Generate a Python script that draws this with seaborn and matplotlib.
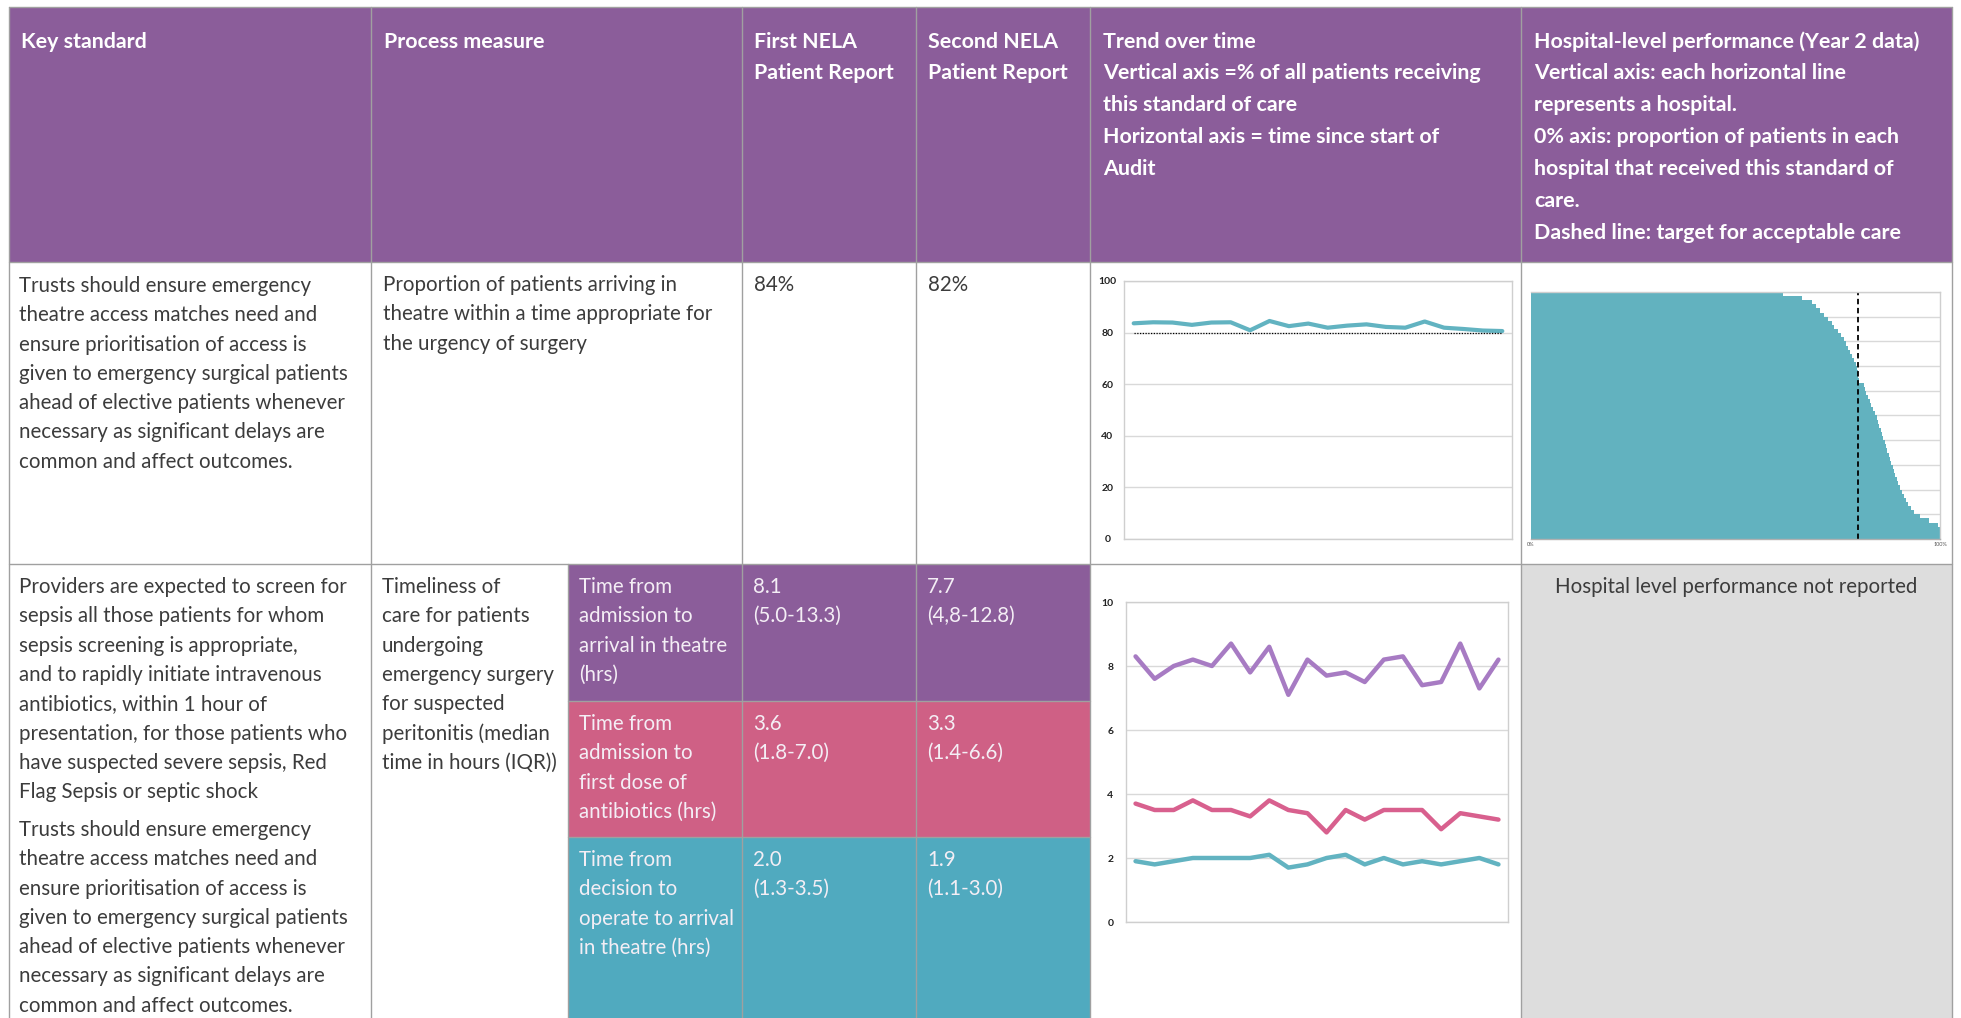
import numpy as np
import pandas as pd
import matplotlib
matplotlib.use("Agg")
import matplotlib.pyplot as plt
from matplotlib.patches import Rectangle
import seaborn as sns

# ---- data ----
periods = list(range(1, 21))

# % of patients arriving in theatre in time (trend, 20 periods)
arrival_in_time_pct = [83.6, 84.0, 83.9, 83.0, 83.9, 84.0, 80.9, 84.5, 82.5, 83.5,
                       81.9, 82.7, 83.2, 82.2, 81.9, 84.3, 81.9, 81.4, 80.8, 80.6]
target_pct = 80

# median hours (trend, 20 periods)
admit_to_theatre_hrs = [8.3, 7.6, 8.0, 8.2, 8.0, 8.7, 7.8, 8.6, 7.1, 8.2,
                        7.7, 7.8, 7.5, 8.2, 8.3, 7.4, 7.5, 8.7, 7.3, 8.2]
admit_to_antibiotics_hrs = [3.7, 3.5, 3.5, 3.8, 3.5, 3.5, 3.3, 3.8, 3.5, 3.4,
                            2.8, 3.5, 3.2, 3.5, 3.5, 3.5, 2.9, 3.4, 3.3, 3.2]
decision_to_theatre_hrs = [1.9, 1.8, 1.9, 2.0, 2.0, 2.0, 2.0, 2.1, 1.7, 1.8,
                           2.0, 2.1, 1.8, 2.0, 1.8, 1.9, 1.8, 1.9, 2.0, 1.8]

# hospital-level % (Year 2), sorted as drawn top to bottom
hospital_pct = [61.5, 66.3, 68.7, 69.6, 70.7, 71.7, 72.6, 73.5, 74.2, 75.0,
                75.8, 76.5, 77.1, 77.6, 78.1, 78.6, 79.0, 79.4, 79.7, 79.9,
                80.0, 80.3, 81.3, 81.7, 82.0, 82.5, 82.8, 83.2, 83.6, 84.1,
                84.5, 84.8, 85.2, 85.5, 85.8, 86.1, 86.5, 86.8, 87.1, 87.5,
                87.8, 88.1, 88.4, 88.8, 89.1, 89.5, 89.8, 90.2, 90.7, 91.1,
                91.7, 92.2, 92.9, 93.7, 95.0, 97.2, 99.5, 100, 100, 100]
hospital_ids = [f"H{i + 1}" for i in range(len(hospital_pct))]

# ---- table text ----
header_cols = [
    ["Key standard"],
    ["Process measure"],
    ["First NELA", "Patient Report"],
    ["Second NELA", "Patient Report"],
    ["Trend over time", "Vertical axis =% of all patients receiving", "this standard of care",
     "Horizontal axis = time since start of", "Audit"],
    ["Hospital-level performance (Year 2 data)", "Vertical axis: each horizontal line",
     "represents a hospital.", "0% axis: proportion of patients in each",
     "hospital that received this standard of", "care.", "Dashed line: target for acceptable care"],
]
theatre_standard = ["Trusts should ensure emergency", "theatre access matches need and",
                    "ensure prioritisation of access is", "given to emergency surgical patients",
                    "ahead of elective patients whenever", "necessary as significant delays are",
                    "common and affect outcomes."]
theatre_measure = ["Proportion of patients arriving in", "theatre within a time appropriate for",
                   "the urgency of surgery"]
theatre_first, theatre_second = "84%", "82%"

sepsis_standard = ["Providers are expected to screen for", "sepsis all those patients for whom",
                   "sepsis screening is appropriate,", "and to rapidly initiate intravenous",
                   "antibiotics, within 1 hour of", "presentation, for those patients who",
                   "have suspected severe sepsis, Red", "Flag Sepsis or septic shock"]
sepsis_measure = ["Timeliness of", "care for patients", "undergoing", "emergency surgery",
                  "for suspected", "peritonitis (median", "time in hours (IQR))"]
sub_measures = [["Time from", "admission to", "arrival in theatre", "(hrs)"],
                ["Time from", "admission to", "first dose of", "antibiotics (hrs)"],
                ["Time from", "decision to", "operate to arrival", "in theatre (hrs)"]]
sub_first = [["8.1", "(5.0-13.3)"], ["3.6", "(1.8-7.0)"], ["2.0", "(1.3-3.5)"]]
sub_second = [["7.7", "(4,8-12.8)"], ["3.3", "(1.4-6.6)"], ["1.9", "(1.1-3.0)"]]

# ---- colours ----
PURPLE = "#8b5d9a"
PINK = "#cf6085"
TEAL = "#50aabf"
GREY_CELL = "#dddddd"
BORDER = "#a0a0a0"
TEXT = "#3c3c3c"
LINE_TEAL = "#62b3c1"
LINE_PURPLE = "#a77bc3"
LINE_PINK = "#d8608e"
sub_colors = [PURPLE, PINK, TEAL]

W, H = 1961, 1018
sns.set_theme(style="white")
plt.rcParams["font.family"] = ["Lato", "DejaVu Sans"]

fig = plt.figure(figsize=(W / 100, H / 100), dpi=100)
bg = fig.add_axes([0, 0, 1, 1])
bg.set_xlim(0, W)
bg.set_ylim(H, 0)
bg.axis("off")

# column / row edges in pixels
xs = [9, 371, 742, 916, 1090, 1521, 1952]
x_sub = 568
y_top, y_head, y_row1, y_bot = 7, 262, 564, 1018
y_subs = [564, 701, 837, 1018]

bg.add_patch(Rectangle((xs[0], y_top), xs[-1] - xs[0], y_head - y_top, color=PURPLE, lw=0))
for i, c in enumerate(sub_colors):
    bg.add_patch(Rectangle((x_sub, y_subs[i]), xs[4] - x_sub, y_subs[i + 1] - y_subs[i],
                           color=c, lw=0))
bg.add_patch(Rectangle((xs[5], y_row1), xs[6] - xs[5], y_bot - y_row1, color=GREY_CELL, lw=0))

for x in xs:
    bg.plot([x, x], [y_top, y_bot], color=BORDER, lw=1.0)
bg.plot([x_sub, x_sub], [y_row1, y_bot], color=BORDER, lw=1.0)
for y in [y_top, y_head, y_row1]:
    bg.plot([xs[0], xs[-1]], [y, y], color=BORDER, lw=1.0)
for y in y_subs[1:3]:
    bg.plot([x_sub, xs[4]], [y, y], color=BORDER, lw=1.0)


def put_lines(x, y0, lines, step=29.3, **kw):
    for i, s in enumerate(lines):
        bg.text(x, y0 + i * step, s, va="baseline", ha="left", **kw)


head_kw = dict(color="white", fontsize=15.4, fontweight="bold")
body_kw = dict(color=TEXT, fontsize=14.8, fontweight="normal")
cell_kw = dict(color="#f4eef5", fontsize=14.8, fontweight="normal")

head_x = [21, 384, 754, 928, 1103, 1534]
for x, lines in zip(head_x, header_cols):
    put_lines(x, 47.5, lines, step=31.9, **head_kw)

# row 1
put_lines(19, 292, theatre_standard, **body_kw)
put_lines(383, 291, theatre_measure, **body_kw)
put_lines(754, 291, [theatre_first], **body_kw)
put_lines(928, 291, [theatre_second], **body_kw)

# row 2
put_lines(19, 593, sepsis_standard, **body_kw)
put_lines(19, 836, theatre_standard, **body_kw)
put_lines(382, 593, sepsis_measure, **body_kw)
for i in range(3):
    y0 = y_subs[i] + 29
    put_lines(579, y0, sub_measures[i], **cell_kw)
    put_lines(753, y0, sub_first[i], **cell_kw)
    put_lines(927, y0, sub_second[i], **cell_kw)
bg.text((xs[5] + xs[6]) / 2, 593, "Hospital level performance not reported",
        ha="center", va="baseline", **body_kw)


def px_axes(l, t, r, b):
    return fig.add_axes([l / W, 1 - b / H, (r - l) / W, (b - t) / H])


def style_trend(ax, ymax, step):
    ax.set_xlim(-0.5, len(periods) - 0.5)
    ax.set_ylim(0, ymax)
    ax.set_yticks(np.arange(0, ymax + step, step))
    ax.set_xticks([])
    ax.set_xlabel("")
    ax.set_ylabel("")
    ax.yaxis.grid(True, color="#d9d9d9", lw=1.0)
    ax.set_axisbelow(True)
    for s in ax.spines.values():
        s.set_color("#cfcfcf")
        s.set_linewidth(1.0)
        s.set_visible(True)
    ax.tick_params(axis="y", length=0, labelsize=7.5, labelcolor="#222222")
    for lbl in ax.get_yticklabels():
        lbl.set_fontweight("bold")


# trend chart, row 1
ax1 = px_axes(1124, 281, 1512, 539)
sns.lineplot(x=list(range(len(periods))), y=arrival_in_time_pct, color=LINE_TEAL,
             linewidth=3.0, ax=ax1)
ax1.hlines(target_pct, 0, len(periods) - 1, color="black", lw=0.9, linestyles=(0, (1, 1.2)))
style_trend(ax1, 100, 20)
ax1.tick_params(axis="y", pad=12)
for lbl in ax1.get_yticklabels():
    lbl.set_ha("center")

# trend chart, row 2
long_df = pd.DataFrame({
    "period": list(range(len(periods))) * 3,
    "hours": admit_to_theatre_hrs + admit_to_antibiotics_hrs + decision_to_theatre_hrs,
    "measure": ["theatre"] * 20 + ["antibiotics"] * 20 + ["decision"] * 20,
})
ax2 = px_axes(1126, 602, 1508, 922)
sns.lineplot(data=long_df, x="period", y="hours", hue="measure",
             palette={"theatre": LINE_PURPLE, "antibiotics": LINE_PINK, "decision": LINE_TEAL},
             linewidth=3.2, legend=False, ax=ax2)
style_trend(ax2, 10, 2)
ax2.tick_params(axis="y", pad=9)

# hospital-level chart
ax3 = px_axes(1531, 292, 1940, 539)
sns.barplot(x=hospital_pct, y=hospital_ids, orient="h", color="#62b2bf", saturation=1,
            width=1.0, linewidth=0, ax=ax3)
n = len(hospital_pct)
ax3.set_xlim(0, 100)
ax3.set_ylim(n - 0.5, -0.5)
ax3.set_yticks(np.arange(-0.5, n, n / 10))
ax3.set_yticklabels([])
ax3.yaxis.grid(True, color="#d9d9d9", lw=1.0)
ax3.set_axisbelow(True)
ax3.axvline(target_pct, color="black", lw=1.3, ls=(0, (3, 2)))
ax3.set_xticks([0, 100])
ax3.set_xticklabels(["0%", "100%"])
ax3.tick_params(axis="x", length=0, labelsize=4, labelcolor="#555555", pad=2)
ax3.tick_params(axis="y", length=0)
ax3.set_xlabel("")
ax3.set_ylabel("")
for name, s in ax3.spines.items():
    s.set_color("#cfcfcf")
    s.set_linewidth(1.0)
ax3.spines["bottom"].set_color("#b0b0b0")
ax3.spines["left"].set_visible(False)

fig.savefig("out.png", dpi=100)
